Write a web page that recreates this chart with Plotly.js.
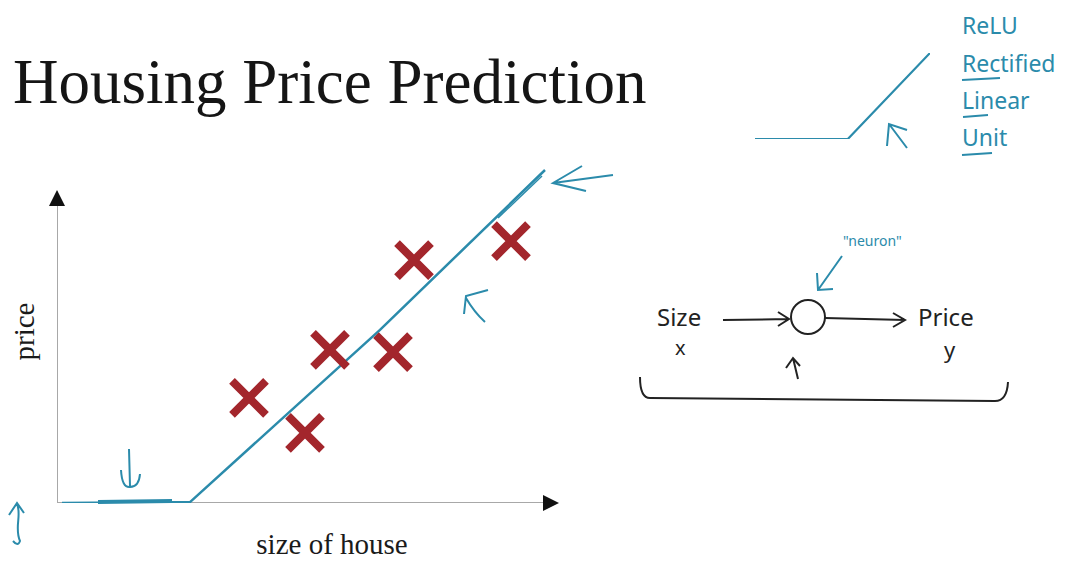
<!DOCTYPE html>
<html>
<head>
<meta charset="utf-8">
<script src="https://cdn.plot.ly/plotly-3.0.1.min.js"></script>
<style>html,body{margin:0;padding:0;background:#fff;}#chart{width:1068px;height:562px;}</style>
</head>
<body>
<div id="chart"></div>
<script>
// ---- data ----
const houseSize = [3.84, 4.96, 5.46, 6.72, 7.14, 9.08];
const housePrice = [3.37, 2.25, 4.91, 4.84, 7.79, 8.40];
const fitSize = [0.1, 2.66, 6.46, 9.76];
const fitPrice = [0, 0.03, 5.55, 10.68];
const reluIn = [-1.13, 0, 1];
const reluOut = [0, 0, 1];
const reluWords = ['ReLU', 'Rectified', 'Linear', 'Unit'];
const neuronIn = 'Size', neuronInSym = 'x', neuronOut = 'Price', neuronOutSym = 'y';

// ---- styles ----
const BLUE = '#2b8bab';
const INK = '#222';
const RED = '#a3262c';
const W = 1068, H = 562;
const px2fx = p => p / W;
const py2fy = p => 1 - p / H;

const traces = [
  {x: fitSize, y: fitPrice, type: 'scatter', mode: 'lines', xaxis: 'x', yaxis: 'y',
   line: {color: BLUE, width: 2.5}, hoverinfo: 'skip', cliponaxis: false},
  {x: houseSize, y: housePrice, type: 'scatter', mode: 'markers', xaxis: 'x', yaxis: 'y',
   marker: {symbol: 'x-thin', size: 34, color: RED, line: {color: RED, width: 8}}},
  {x: reluIn, y: reluOut, type: 'scatter', mode: 'lines', xaxis: 'x3', yaxis: 'y3',
   line: {color: BLUE, width: 2.2}, hoverinfo: 'skip'},
  {x: [0], y: [0], type: 'scatter', mode: 'markers', xaxis: 'x2', yaxis: 'y2',
   marker: {size: 0, opacity: 0}, hoverinfo: 'skip'}
];

function pathShape(d, color, width) {
  return {type: 'path', xref: 'x2', yref: 'y2', path: d,
          line: {color: color, width: width || 2}, layer: 'above'};
}

const shapes = [
  // main axes (drawn below the data)
  {type: 'line', xref: 'x', yref: 'y', x0: 0, y0: 0, x1: 10.0, y1: 0, layer: 'below', line: {color: '#a8a8a8', width: 2}},
  {type: 'line', xref: 'x', yref: 'y', x0: 0, y0: 0, x1: 0, y1: 10.0, layer: 'below', line: {color: '#a8a8a8', width: 2}},
  // retraced flat part and top of fit line
  pathShape('M98,502 L172,501', BLUE, 4),
  pathShape('M498,218 L542,176', BLUE, 1.5),
  // hand-drawn arrows on the plot
  pathShape('M129,449 L130,486 M121,470 Q122,488 130,487 Q139,487 140,474', BLUE, 2),
  pathShape('M17,504 C22,515 14,528 20,541 Q18,547 13,541 M9,515 L17,503 L24,513', BLUE, 2),
  pathShape('M488,290 L466,296 L464,314 M466,298 Q474,312 485,322', BLUE, 2),
  pathShape('M613,175 L553,183 M582,166 L553,183 L586,191', BLUE, 2),
  // ReLU sketch arrow and underlines
  pathShape('M907,148 L889,124 M887,146 L889,124 L907,130', BLUE, 2),
  pathShape('M962,80 L1000,78', BLUE, 2),
  pathShape('M963,117 L988,115', BLUE, 2),
  pathShape('M962,155 L992,153', BLUE, 2),
  // neuron diagram
  {type: 'circle', xref: 'x2', yref: 'y2', x0: 791, x1: 825, y0: 300, y1: 334, line: {color: INK, width: 2}},
  pathShape('M723,320 L789,319 M778,312 L789,319 L778,326', INK, 2),
  pathShape('M825,318 L905,320 M893,313 L905,320 L893,327', INK, 2),
  pathShape('M842,256 L818,290 M817,273 L818,290 L833,289', BLUE, 2),
  pathShape('M798,379 L793,358 M786,368 L793,358 L800,366', INK, 2),
  pathShape('M640,377 Q640,398 650,398 L995,401 Q1007,401 1008,382', INK, 2)
];

const annotations = [
  // axis arrowheads
  {xref: 'x', yref: 'y', x: 10.04, y: 0, ax: -6, ay: 0, text: '', showarrow: true,
   arrowhead: 2, arrowsize: 1.6, arrowwidth: 2, arrowcolor: '#111'},
  {xref: 'x', yref: 'y', x: 0, y: 10.04, ax: 0, ay: 6, text: '', showarrow: true,
   arrowhead: 2, arrowsize: 1.6, arrowwidth: 2, arrowcolor: '#111'},
  // neuron diagram text
  {xref: 'x2', yref: 'y2', x: 679, y: 316, text: neuronIn, showarrow: false,
   font: {family: 'Noto Sans', size: 24, color: INK}},
  {xref: 'x2', yref: 'y2', x: 680, y: 347, text: neuronInSym, showarrow: false,
   font: {family: 'Noto Sans', size: 20, color: INK}},
  {xref: 'x2', yref: 'y2', x: 946, y: 316, text: neuronOut, showarrow: false,
   font: {family: 'Noto Sans', size: 24, color: INK}},
  {xref: 'x2', yref: 'y2', x: 950, y: 349, text: neuronOutSym, showarrow: false,
   font: {family: 'Noto Sans', size: 22, color: INK}},
  {xref: 'x2', yref: 'y2', x: 872, y: 240, text: '"neuron"', showarrow: false,
   font: {family: 'Noto Sans', size: 14, color: BLUE}}
];
const reluY = [25, 63, 100, 137];
reluWords.forEach((w, i) => annotations.push({
  xref: 'x2', yref: 'y2', x: 960, y: reluY[i], xanchor: 'left', text: w, showarrow: false,
  font: {family: 'Noto Sans', size: 23, color: BLUE}
}));

const layout = {
  width: W, height: H,
  margin: {l: 0, r: 0, t: 0, b: 0, pad: 0},
  paper_bgcolor: '#fff', plot_bgcolor: 'rgba(0,0,0,0)',
  showlegend: false,
  title: {text: 'Housing Price Prediction', x: px2fx(13), xanchor: 'left', y: py2fy(81), yanchor: 'middle',
          font: {family: 'Liberation Serif', size: 63, color: '#151515'}},
  xaxis: {domain: [px2fx(57), px2fx(607)], range: [0, 11], anchor: 'y',
          showgrid: false, zeroline: false, showline: false, showticklabels: false, ticks: '',
          title: {text: 'size of house', font: {family: 'Liberation Serif', size: 29, color: '#1a1a1a'}, standoff: 30}},
  yaxis: {domain: [py2fy(503), py2fy(160)], range: [0, 11], anchor: 'x',
          showgrid: false, zeroline: false, showline: false, showticklabels: false, ticks: '',
          title: {text: 'price', font: {family: 'Liberation Serif', size: 29, color: '#1a1a1a'}, standoff: 12}},
  xaxis2: {domain: [0, 1], range: [0, W], anchor: 'y2', visible: false, fixedrange: true},
  yaxis2: {domain: [0, 1], range: [H, 0], anchor: 'x2', visible: false, fixedrange: true},
  xaxis3: {domain: [px2fx(755), px2fx(930)], range: [-1.13, 1], anchor: 'y3', visible: false},
  yaxis3: {domain: [py2fy(139), py2fy(53)], range: [0, 1], anchor: 'x3', visible: false},
  shapes: shapes,
  annotations: annotations
};

Plotly.newPlot('chart', traces, layout, {displayModeBar: false, staticPlot: true});
</script>
</body>
</html>
